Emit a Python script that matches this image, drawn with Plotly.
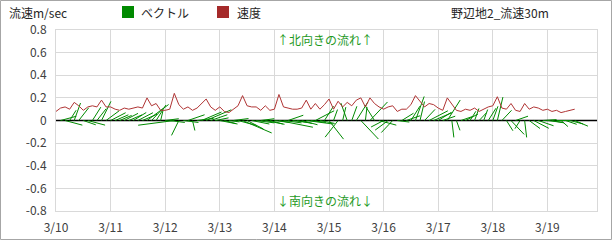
import plotly.graph_objects as go
import math

# ---- data (2-hourly from 3/10 00:00) ----
speed = [
    0.08, 0.11, 0.12, 0.10, 0.16, 0.13, 0.09, 0.12, 0.13, 0.12, 0.18, 0.12,   # 3/10
    0.12, 0.10, 0.09, 0.11, 0.10, 0.11, 0.12, 0.11, 0.20, 0.13, 0.15, 0.09,   # 3/11
    0.09, 0.10, 0.24, 0.14, 0.10, 0.12, 0.09, 0.11, 0.15, 0.19, 0.12, 0.09,   # 3/12
    0.12, 0.08, 0.07, 0.10, 0.13, 0.22, 0.13, 0.12, 0.12, 0.09, 0.13, 0.09,   # 3/13
    0.10, 0.23, 0.12, 0.11, 0.10, 0.10, 0.11, 0.18, 0.10, 0.15, 0.10, 0.14,   # 3/14
    0.19, 0.10, 0.17, 0.12, 0.16, 0.13, 0.18, 0.20, 0.12, 0.20, 0.15, 0.12,   # 3/15
    0.10, 0.12, 0.13, 0.08, 0.10, 0.10, 0.14, 0.22, 0.17, 0.12, 0.15, 0.14,   # 3/16
    0.11, 0.09, 0.20, 0.15, 0.09, 0.08, 0.10, 0.09, 0.11, 0.08, 0.10, 0.12,   # 3/17
    0.13, 0.21, 0.11, 0.10, 0.15, 0.09, 0.08, 0.15, 0.10, 0.12, 0.11, 0.09,   # 3/18
    0.10, 0.08, 0.09, 0.07, 0.08, 0.09, 0.10,                                 # 3/19
]
direction_deg = [
    290, 70, 110, 25, 15, 30, 115, 110, 25, 30, 20, 45,
    55, 60, 60, 55, 60, 50, 55, 60, 45, 35, 25, 10,
    80, 100, 260, 200, 100, 65, 170, 80, 60, 60, 65, 75,
    105, 110, 100, 80, 110, 120, 125, 105, 100, 80, 105, 110,
    100, 105, 100, 65, 100, 105, 110, 100, 100, 55, 105, 25,
    150, 15, 210, 10, 345, 15, 25, 145, 5, 35, 335, 110,
    235, 225, 215, 100, 50, 65, 25, 15, 10, 35, 55, 60,
    50, 65, 25, 175, 165, 65, 55, 25, 15, 35, 15, 25,
    15, 10, 35, 155, 145, 65, 205, 175, 135, 125, 115, 85,
    100, 105, 90, 140, 115, 110, 120,
]
step_days = 2 / 24
tick_vals = list(range(10))
tick_text = ["3/10", "3/11", "3/12", "3/13", "3/14", "3/15", "3/16", "3/17", "3/18", "3/19"]
y_ticks = [0.8, 0.6, 0.4, 0.2, 0, -0.2, -0.4, -0.6, -0.8]
y_text = ["0.8", "0.6", "0.4", "0.2", "0", "-0.2", "-0.4", "-0.6", "-0.8"]

t = [i * step_days for i in range(len(speed))]
vec_scale = 2.8  # days of x per m/s of east component
vx, vy = [], []
for ti, s, d in zip(t, speed, direction_deg):
    u = s * math.sin(math.radians(d))
    v = s * math.cos(math.radians(d))
    vx += [ti, ti + u * vec_scale, None]
    vy += [0, v, None]

GREEN = "#008a00"
RED = "#b03434"
FONT = "Noto Sans CJK JP, Noto Sans, sans-serif"

fig = go.Figure()
fig.add_trace(go.Scatter(x=[-1, 11], y=[0, 0], mode="lines",
                         line=dict(color="black", width=1.5), showlegend=False, hoverinfo="skip"))
fig.add_trace(go.Scatter(x=vx, y=vy, mode="lines", line=dict(color=GREEN, width=1),
                         showlegend=False, name="ベクトル"))
fig.add_trace(go.Scatter(x=t, y=speed, mode="lines", line=dict(color=RED, width=1),
                         showlegend=False, name="速度"))

L, R, T, B = 56, 15, 30, 29
W, H = 612, 240
pw, ph = W - L - R, H - T - B
def px(xp):
    return (xp - L) / pw
def py(yp):
    return (H - B - yp) / ph

shapes = [
    dict(type="rect", xref="paper", yref="paper", x0=px(122), x1=px(134), y0=py(18), y1=py(6),
         fillcolor=GREEN, line=dict(width=0)),
    dict(type="rect", xref="paper", yref="paper", x0=px(217), x1=px(229), y0=py(18), y1=py(6),
         fillcolor="#a52a2a", line=dict(width=0)),
]
ann = [
    dict(text="流速m/sec", x=px(7), y=py(12), xanchor="left", yanchor="middle"),
    dict(text="ベクトル", x=px(139), y=py(12), xanchor="left", yanchor="middle"),
    dict(text="速度", x=px(235), y=py(12), xanchor="left", yanchor="middle"),
    dict(text="野辺地2_流速30m", x=px(449), y=py(12), xanchor="left", yanchor="middle"),
    dict(text="↑北向きの流れ↑", x=px(325), y=py(40), xanchor="center", yanchor="middle",
         font=dict(color="#1f9a1f", size=12, family=FONT)),
    dict(text="↓南向きの流れ↓", x=px(325), y=py(200), xanchor="center", yanchor="middle",
         font=dict(color="#1f9a1f", size=12, family=FONT)),
]
for a in ann:
    a.update(xref="paper", yref="paper", showarrow=False)
    a.setdefault("font", dict(color="#262626", size=12, family=FONT))

fig.update_layout(
    width=W, height=H, margin=dict(l=L, r=R, t=T, b=B, autoexpand=False),
    paper_bgcolor="white", plot_bgcolor="white",
    font=dict(family=FONT, size=12, color="#404040"),
    shapes=shapes + [dict(type="rect", xref="paper", yref="paper", x0=px(0.5), x1=px(W - 0.5),
                          y0=py(H - 0.5), y1=py(0.5), line=dict(color="#a6a6a6", width=1))],
    annotations=ann,
    showlegend=False,
)
fig.update_xaxes(range=[0, pw / 54.6], tickvals=tick_vals, ticktext=tick_text,
                 showgrid=True, gridcolor="#d9d9d9", gridwidth=1, zeroline=False,
                 showline=True, linecolor="#d9d9d9", mirror=True, ticks="",
                 automargin=False, ticklabelstandoff=6, tickfont=dict(size=12, color="#404040"))
fig.update_yaxes(range=[-0.8, 0.8], tickvals=y_ticks, ticktext=y_text,
                 showgrid=True, gridcolor="#d9d9d9", gridwidth=1, zeroline=False,
                 showline=True, linecolor="#d9d9d9", mirror=True, ticks="",
                 automargin=False, ticklabelstandoff=6, tickfont=dict(size=12, color="#404040"))

fig.write_html("out.html")
